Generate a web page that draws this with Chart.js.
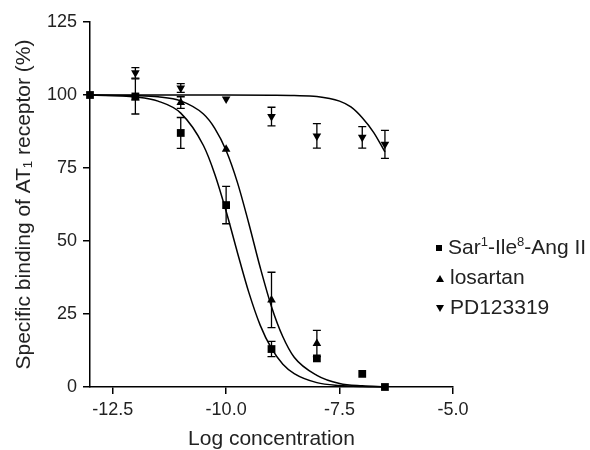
<!DOCTYPE html>
<html>
<head>
<meta charset="utf-8">
<script src="https://cdn.jsdelivr.net/npm/chart.js@4.4.1/dist/chart.umd.min.js"></script>
<style>
  body { margin: 0; background: #fff; }
  #wrap { position: relative; width: 590px; height: 450px; overflow: hidden; }
  #legend { position: absolute; left: 436px; top: 232px; font-family: 'Liberation Sans', Arial, sans-serif; font-size: 21px; color: #222; white-space: nowrap; }
  #legend .row { height: 30px; line-height: 30px; }
  #legend .mark { display: inline-block; width: 8px; margin-right: 6px; vertical-align: middle; }
  #legend sup { font-size: 13px; vertical-align: 8px; line-height: 0; }
  .sq { width: 6px !important; height: 6px; background: #000; }
  .up { width: 0 !important; height: 0; border-left: 4px solid transparent; border-right: 4px solid transparent; border-bottom: 7px solid #000; }
  .down { width: 0 !important; height: 0; border-left: 4px solid transparent; border-right: 4px solid transparent; border-top: 7px solid #000; }
</style>
</head>
<body>
<div id="wrap">
  <canvas id="chart" width="590" height="450"></canvas>
  <div id="legend">
    <div class="row"><span class="mark sq"></span>Sar<sup>1</sup>-Ile<sup>8</sup>-Ang II</div>
    <div class="row"><span class="mark up"></span>losartan</div>
    <div class="row"><span class="mark down"></span>PD123319</div>
  </div>
</div>
<script>
// valores
const xTicks = [-12.5, -10.0, -7.5, -5.0];
const yTicks = [0, 25, 50, 75, 100, 125];

// Sar1-Ile8-Ang II
const sarX = [-13, -12, -11, -10, -9, -8, -7, -6.5];
const sarY = [100, 99.5, 87, 62.3, 13, 9.8, 4.5, 0];
const sarErr = [0, 6, 5.3, 6.4, 2.6, 0, 0, 0];

// losartan
const losX = [-12, -11, -10, -9, -8];
const losY = [99, 97.4, 81.4, 29.8, 14.9];
const losErr = [0, 2, 0, 9.5, 4.5];

// PD123319
const pdX = [-12, -11, -10, -9, -8, -7, -6.5];
const pdY = [107.6, 102.4, 98.6, 92.6, 86, 85.5, 83.1];
const pdErr = [1.8, 1.5, 0, 3.2, 4.2, 3.7, 4.8];

// curvas ajustadas
const curveX = [-13, -12, -11.5, -11, -10.5, -10.25, -10, -9.75, -9.5, -9.25, -9, -8.75, -8.5, -8, -7.5, -7, -6.5];
const sarCurve = [100, 99.3, 97.9, 93.8, 82.7, 72.9, 60.2, 46.0, 32.4, 21.2, 13.2, 7.8, 4.6, 1.5, 0.5, 0.15, 0.05];
const losCurve = [100, 99.8, 99.4, 98.0, 93.5, 88.6, 81.0, 70.0, 56.0, 41.0, 27.5, 17.2, 10.2, 4.0, 1.2, 0.4, 0.1];
const pdCurveX = [-13, -11, -10, -9, -8.5, -8, -7.5, -7.25, -7, -6.75, -6.5];
const pdCurve = [100, 100, 100, 99.9, 99.8, 99.5, 97.9, 95.9, 92.2, 87.2, 80.5];

function pts(xs, ys) {
  return xs.map((x, i) => ({ x: x, y: ys[i] }));
}

// barras de erro
const errorBars = {
  id: "errorBars",
  afterDatasetsDraw(chart) {
    const ctx = chart.ctx;
    const xs = chart.scales.x;
    const ys = chart.scales.y;
    chart.data.datasets.forEach(function (ds) {
      if (!ds.errors) return;
      ctx.save();
      ctx.strokeStyle = "#000";
      ctx.lineWidth = 1.3;
      ds.data.forEach(function (p, i) {
        const e = ds.errors[i];
        if (!e) return;
        const px = xs.getPixelForValue(p.x);
        const top = ys.getPixelForValue(p.y + e);
        const bot = ys.getPixelForValue(p.y - e);
        ctx.beginPath();
        ctx.moveTo(px, top);
        ctx.lineTo(px, bot);
        ctx.moveTo(px - 4, top);
        ctx.lineTo(px + 4, top);
        ctx.moveTo(px - 4, bot);
        ctx.lineTo(px + 4, bot);
        ctx.stroke();
      });
      ctx.restore();
    });
  },
};

function curve(data) {
  return {
    data: data,
    showLine: true,
    borderColor: "#000",
    borderWidth: 1.5,
    pointRadius: 0,
    cubicInterpolationMode: "monotone",
    clip: false,
  };
}

function markers(data, style, rot, errors) {
  return {
    data: data,
    showLine: false,
    pointStyle: style,
    pointRotation: rot,
    pointRadius: style === "rect" ? 5.5 : 5,
    backgroundColor: "#000",
    borderColor: "#000",
    borderWidth: 0,
    errors: errors,
    clip: false,
  };
}

Chart.defaults.font.family = "'Liberation Sans', Arial, sans-serif";
Chart.defaults.color = "#222";

new Chart(document.getElementById("chart"), {
  type: "scatter",
  data: {
    datasets: [
      curve(pts(curveX, sarCurve)),
      curve(pts(curveX, losCurve)),
      curve(pts(pdCurveX, pdCurve)),
      markers(pts(sarX, sarY), "rect", 0, sarErr),
      markers(pts(losX, losY), "triangle", 0, losErr),
      markers(pts(pdX, pdY), "triangle", 180, pdErr),
    ],
  },
  options: {
    responsive: false,
    animation: false,
    layout: { padding: { top: 22, right: 137, left: 0, bottom: 0 } },
    plugins: { legend: { display: false }, tooltip: { enabled: false } },
    scales: {
      x: {
        type: "linear",
        min: -13,
        max: -5,
        afterBuildTicks: function (scale) {
          scale.ticks = xTicks.map((v) => ({ value: v }));
        },
        afterFit: function (scale) {
          scale.height = 63;
        },
        ticks: {
          font: { size: 18 },
          padding: 5,
          maxRotation: 0,
          callback: (v) => Number(v).toFixed(1),
        },
        grid: { drawOnChartArea: false, drawTicks: true, tickLength: 7, color: "#000", lineWidth: 1.5 },
        border: { display: true, color: "#000", width: 1.5 },
        title: {
          display: true,
          text: "Log concentration",
          font: { size: 21, lineHeight: 1 },
          padding: { top: 0, bottom: 0 },
        },
      },
      y: {
        type: "linear",
        min: 0,
        max: 125,
        afterBuildTicks: function (scale) {
          scale.ticks = yTicks.map((v) => ({ value: v }));
        },
        afterFit: function (scale) {
          scale.width = 90;
        },
        ticks: { font: { size: 18 }, padding: 6 },
        grid: { drawOnChartArea: false, drawTicks: true, tickLength: 7, color: "#000", lineWidth: 1.5 },
        border: { display: true, color: "#000", width: 1.5 },
        title: {
          display: true,
          text: "Specific binding of AT\u2081 receptor (%)",
          font: { size: 21, lineHeight: 1 },
          padding: { top: 14, bottom: 0 },
        },
      },
    },
  },
  plugins: [errorBars],
});
</script>
</body>
</html>
